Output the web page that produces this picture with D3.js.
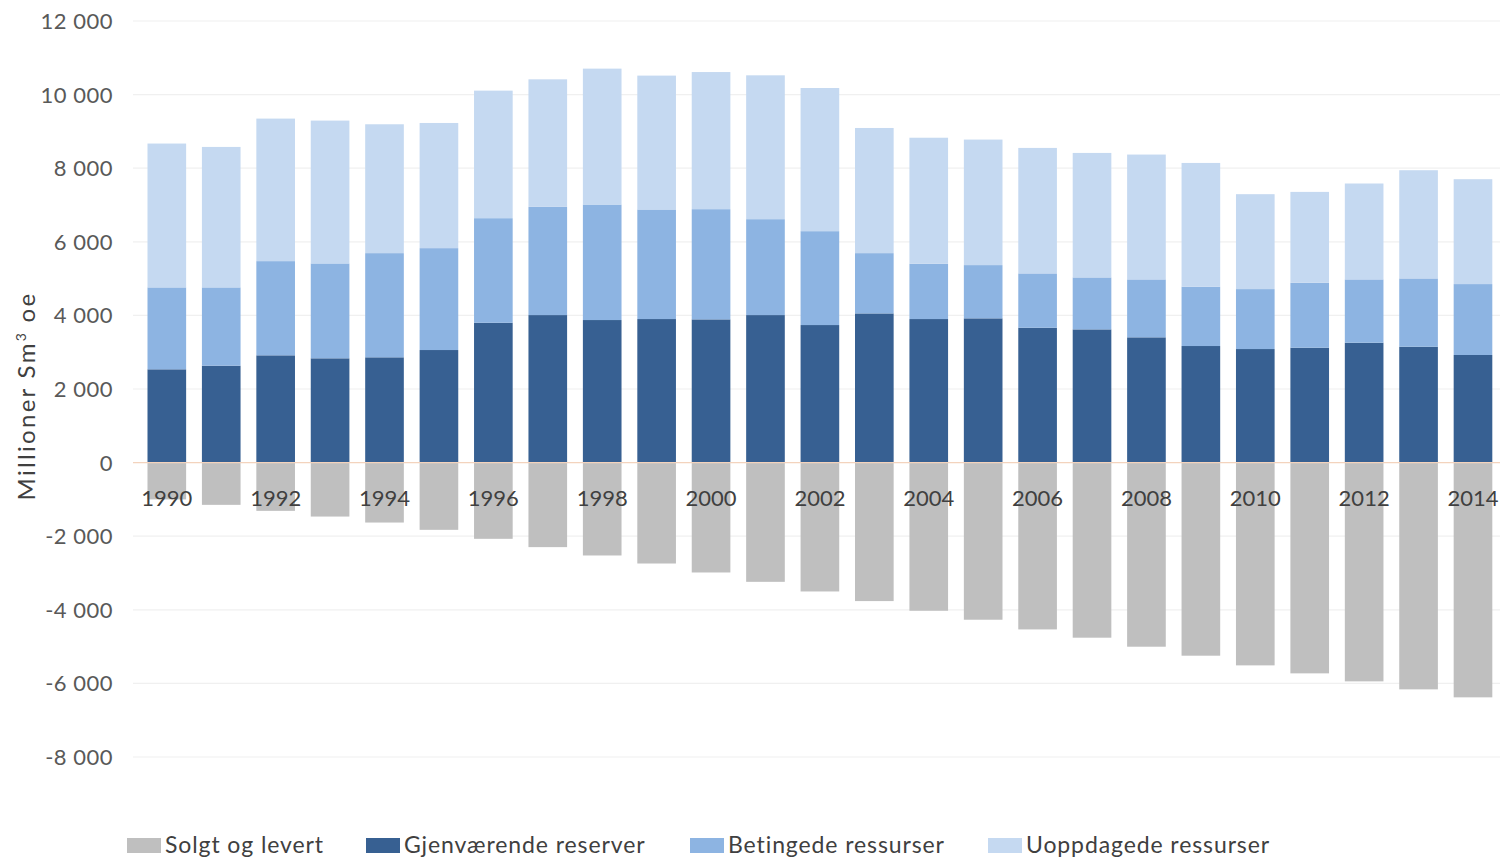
<!DOCTYPE html>
<html><head><meta charset="utf-8">
<script src="https://cdn.jsdelivr.net/npm/d3@7"></script>
<style>
html,body{margin:0;padding:0;background:#fff;}
svg{display:block;font-family:Lato, "Open Sans", sans-serif;}
</style></head>
<body><svg id="chart" width="1505" height="860"></svg>
<script>
const years = [1990,1991,1992,1993,1994,1995,1996,1997,1998,1999,2000,2001,2002,2003,2004,2005,2006,2007,2008,2009,2010,2011,2012,2013,2014];
const solgt = [-1000,-1148,-1311,-1466,-1629,-1827,-2071,-2297,-2524,-2742,-2986,-3240,-3502,-3763,-4026,-4270,-4533,-4758,-5003,-5247,-5510,-5727,-5945,-6162,-6379];
const gjenvaerende = [2535,2633,2915,2834,2861,3059,3800,4009,3874,3901,3892,4009,3738,4054,3901,3920,3665,3620,3404,3168,3086,3122,3257,3149,2924];
const betingede = [2226,2128,2560,2578,2831,2769,2842,2940,3139,2977,2995,2606,2551,1638,1501,1447,1476,1412,1574,1610,1629,1764,1721,1856,1927];
const uoppdagede = [3909,3817,3873,3882,3502,3401,3466,3466,3693,3638,3726,3909,3890,3401,3426,3411,3410,3383,3393,3365,2579,2470,2606,2940,2850];
const seriesNames = ["Solgt og levert","Gjenværende reserver","Betingede ressurser","Uoppdagede ressurser"];
const seriesKeys = ["solgt","gjenv","beting","uopp"];
const colors = ["#bfbfbf","#376092","#8db4e2","#c5d9f1"];
const yTicks = [-8000,-6000,-4000,-2000,0,2000,4000,6000,8000,10000,12000];
const yearLabels = [1990,1992,1994,1996,1998,2000,2002,2004,2006,2008,2010,2012,2014];

const rows = years.map((y,i)=>({year:y, solgt:solgt[i], gjenv:gjenvaerende[i], beting:betingede[i], uopp:uoppdagede[i]}));
const svg = d3.select("#chart");

const x = d3.scaleBand().domain(years).range([139.6,1500.2]).paddingInner(0.29).paddingOuter(0.145);
const y = d3.scaleLinear().domain([-8000,12000]).range([757,21]);

// gridlines
svg.append("g").selectAll("line").data(yTicks.filter(d=>d!==0)).join("line")
  .attr("x1",133).attr("x2",1500).attr("y1",d=>y(d)).attr("y2",d=>y(d))
  .attr("stroke","#f0f0f0").attr("stroke-width",1.2);

// y tick labels
svg.append("g").selectAll("text").data(yTicks).join("text")
  .attr("x",113).attr("y",d=>y(d)).attr("dy","0.36em").attr("text-anchor","end")
  .attr("font-size",22).attr("fill","#595959").attr("letter-spacing",0.5)
  .text(d=>(d<0?"-":"")+d3.format(",")(Math.abs(d)).replace(/,/g," "));

// stacked bars
const stack = d3.stack().keys(seriesKeys).offset(d3.stackOffsetDiverging);
const stacked = stack(rows);
svg.append("g").selectAll("g").data(stacked).join("g")
  .attr("fill",(d,i)=>colors[i])
  .selectAll("rect").data(d=>d).join("rect")
  .attr("x",d=>x(d.data.year)).attr("width",x.bandwidth())
  .attr("y",d=>y(Math.max(d[0],d[1]))).attr("height",d=>Math.abs(y(d[0])-y(d[1])));

// zero line
svg.append("line").attr("x1",133).attr("x2",1500).attr("y1",y(0)).attr("y2",y(0))
  .attr("stroke","#f3d3bd").attr("stroke-width",1.2);

// year labels
svg.append("g").selectAll("text").data(yearLabels).join("text")
  .attr("x",d=>x(d)+x.bandwidth()/2).attr("y",y(0)+35).attr("dy","0.36em")
  .attr("text-anchor","middle").attr("font-size",22).attr("fill","#404040")
  .text(d=>d);

// axis title
const t = svg.append("text").attr("transform","translate(35,396) rotate(-90)")
  .attr("text-anchor","middle").attr("font-size",24).attr("fill","#404040").attr("letter-spacing",2.3);
t.append("tspan").text("Millioner Sm");
t.append("tspan").attr("font-size",14).attr("dy",-9).text("3");
t.append("tspan").attr("dy",9).text(" oe");

// legend
const legX = [127,366,690,988];
const leg = svg.append("g").selectAll("g").data(seriesNames).join("g")
  .attr("transform",(d,i)=>`translate(${legX[i]},845)`);
leg.append("rect").attr("x",0).attr("y",-7).attr("width",34).attr("height",15).attr("fill",(d,i)=>colors[i]);
leg.append("text").attr("x",38).attr("y",0).attr("dy","0.36em").attr("font-size",23).attr("letter-spacing",0.9)
  .attr("fill","#404040").text(d=>d);
</script>
</body></html>
